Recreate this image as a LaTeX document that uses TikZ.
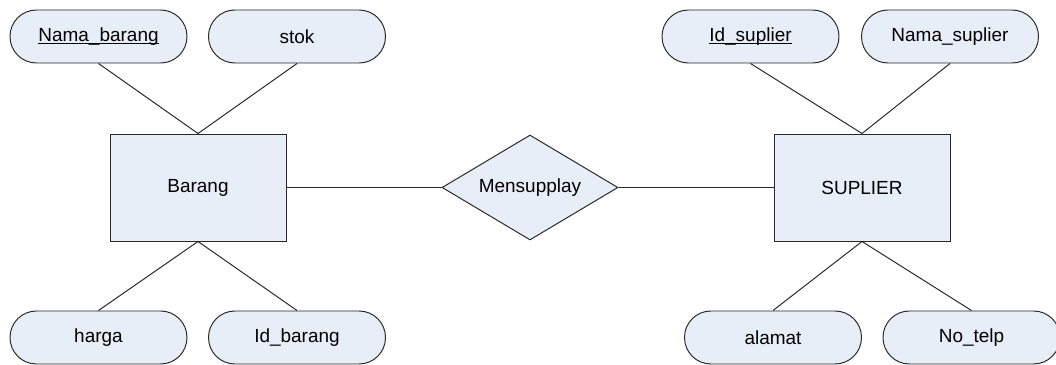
\documentclass[tikz,border=0pt]{standalone}
\usepackage{fontspec}
\setmainfont{Liberation Sans}
\usetikzlibrary{shapes.geometric}

\definecolor{erfill}{RGB}{232,238,247}
\definecolor{erline}{RGB}{40,40,40}

% key attribute: line just under the baseline
\newcommand{\keyattr}[1]{\setbox0\hbox{#1}\rlap{\rule[-1.6pt]{\wd0}{0.7pt}}\box0}

\tikzset{
	erbase/.style={draw=erline, fill=erfill, line width=0.7pt, inner sep=0pt,
		font=\fontsize{13.5}{16}\selectfont},
	entity/.style={erbase, rectangle, minimum width=4.4cm, minimum height=2.675cm},
	attrib/.style={erbase, rectangle, rounded corners=0.66cm,
		minimum width=4.425cm, minimum height=1.325cm},
	relation/.style={erbase, diamond, aspect=1.676,
		minimum width=4.4cm, minimum height=2.625cm},
	link/.style={draw=erline, line width=0.7pt}
}

\begin{document}
\begin{tikzpicture}
			%%%%% START %%%%%
			\useasboundingbox (0, 0) rectangle (26.4, 9.125);
			
			% entities and relation
			\node[entity] (barang) at (4.95, 4.4375) {Barang};
			\node[relation] (mensupplay) at (13.25, 4.4375) {Mensupplay};
			\node[entity] (suplier) at (21.55, 4.4375) {SUPLIER};
			
			% attributes of Barang
			\node[attrib] (namabarang) at (2.4625, 8.2125) {\keyattr{Nama\_barang}};
			\node[attrib] (stok) at (7.425, 8.2125) {stok};
			\node[attrib] (harga) at (2.4625, 0.6875) {harga};
			\node[attrib] (idbarang) at (7.425, 0.6875) {Id\_barang};
			
			% attributes of SUPLIER
			\node[attrib] (idsuplier) at (18.7625, 8.2125) {\keyattr{Id\_suplier}};
			\node[attrib] (namasuplier) at (23.75, 8.2125) {Nama\_suplier};
			\node[attrib] (alamat) at (19.325, 0.6875) {alamat};
			\node[attrib] (notelp) at (24.2875, 0.6875) {No\_telp};
			
			% links
			\draw[link] (barang) -- (mensupplay) -- (suplier);
			\draw[link] (namabarang.south) -- (barang.north) -- (stok.south);
			\draw[link] (harga.north) -- (barang.south) -- (idbarang.north);
			\draw[link] (idsuplier.south) -- (suplier.north) -- (namasuplier.south);
			\draw[link] (alamat.north) -- (suplier.south) -- (notelp.north);
			
			%%%%% END %%%%%
		\end{tikzpicture}
\end{document}
